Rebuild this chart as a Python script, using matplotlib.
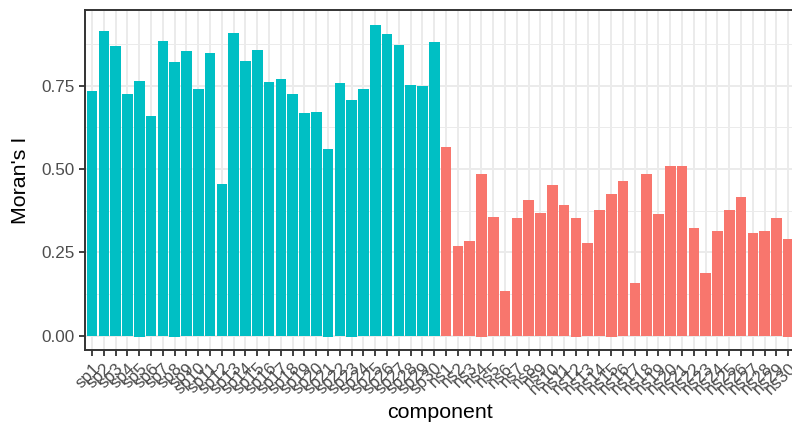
import matplotlib.pyplot as plt
import numpy as np

plt.rcParams['font.family'] = ['Liberation Sans', 'DejaVu Sans']

# Moran's I per component: spatial (sp) then non-spatial (ns)
sp_names = ['sp' + str(i) for i in range(1, 31)]
ns_names = ['ns' + str(i) for i in range(1, 31)]

sp_moran = [0.734, 0.914, 0.869, 0.725, 0.764, 0.659, 0.884, 0.821, 0.854, 0.740,
            0.848, 0.455, 0.908, 0.824, 0.857, 0.761, 0.770, 0.725, 0.668, 0.671,
            0.560, 0.758, 0.707, 0.740, 0.932, 0.905, 0.872, 0.752, 0.749, 0.881]
ns_moran = [0.566, 0.269, 0.284, 0.485, 0.356, 0.134, 0.353, 0.407, 0.368, 0.452,
            0.392, 0.353, 0.278, 0.377, 0.425, 0.464, 0.158, 0.485, 0.365, 0.509,
            0.509, 0.323, 0.188, 0.314, 0.377, 0.416, 0.308, 0.314, 0.353, 0.290]

# a few components carry a tiny negative piece under the bar
sp_low = [0, 0, 0, 0, -0.004, 0, 0, -0.004, 0, 0,
          0, 0, 0, 0, 0, 0, 0, 0, 0, 0,
          -0.004, 0, -0.004, 0, 0, 0, 0, 0, 0, 0]
ns_low = [0, 0, 0, -0.004, 0, 0, 0, 0, 0, 0,
          0, -0.004, 0, 0, -0.004, 0, 0, 0, 0, 0,
          0, 0, 0, 0, 0, 0, 0, 0, 0, -0.004]

names = sp_names + ns_names
top = np.array(sp_moran + ns_moran)
low = np.array(sp_low + ns_low)
colors = ['#00BFC4'] * len(sp_names) + ['#F8766D'] * len(ns_names)
x = np.arange(len(names))

fig = plt.figure(figsize=(7.92, 4.29), dpi=100)
ax = fig.add_axes([85 / 792, 1 - 350 / 429, 710.3 / 792, 340 / 429])

# theme_bw style grid
for v in [0.125, 0.375, 0.625, 0.875]:
    ax.axhline(v, color='#EBEBEB', lw=0.7, zorder=0)
for v in [0, 0.25, 0.5, 0.75]:
    ax.axhline(v, color='#EBEBEB', lw=1.4, zorder=0)
for xi in x:
    ax.axvline(xi, color='#EBEBEB', lw=1.4, zorder=0)

ax.bar(x, top - low, bottom=low, width=0.9, color=colors, zorder=2)

ax.set_xlim(-0.6, len(names) - 0.4)
ax.set_ylim(-0.043, 0.977)
ax.set_yticks([0, 0.25, 0.5, 0.75])
ax.set_yticklabels(['0.00', '0.25', '0.50', '0.75'])
ax.set_xticks(x)
ax.set_xticklabels(names, rotation=45, ha='right', va='top', rotation_mode='anchor')

for s in ax.spines.values():
    s.set_color('#333333')
    s.set_linewidth(1.4)
ax.tick_params(axis='both', color='#333333', width=1.3, length=4,
               labelcolor='#4D4D4D', labelsize=12.3, pad=3.5)

fig.text(21 / 792, 1 - 180 / 429, "Moran's I", rotation=90, ha='center', va='center',
         fontsize=15.4, color='black')
fig.text(440 / 792, 1 - 413 / 429, 'component', ha='center', va='center',
         fontsize=15.4, color='black')

fig.savefig('out.png', dpi=100)
